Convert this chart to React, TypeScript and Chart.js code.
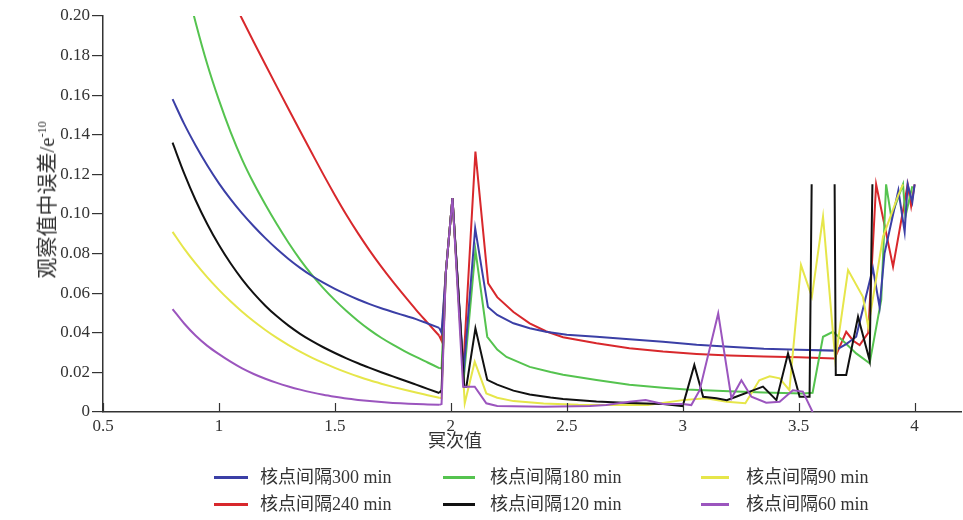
import React, { useEffect, useRef } from "react";
import { Chart, registerables } from "chart.js";

Chart.register(...registerables);

// ---------- data ----------
const leftX = [0.8, 0.85, 0.9, 0.95, 1.0, 1.05, 1.1, 1.15, 1.2, 1.25, 1.3, 1.35, 1.4, 1.45, 1.5, 1.55, 1.6, 1.65, 1.7, 1.75, 1.8, 1.85, 1.9, 1.95];

const y300Left = [0.158, 0.1455, 0.1345, 0.1245, 0.1155, 0.1075, 0.1003, 0.0938, 0.0878, 0.0823, 0.0773, 0.0728, 0.0688, 0.0653, 0.0622, 0.0594, 0.0568, 0.0545, 0.0524, 0.0505, 0.0487, 0.0469, 0.0447, 0.0425];
const y240Left = [0.2755, 0.2615, 0.248, 0.235, 0.2225, 0.2103, 0.1985, 0.1869, 0.1755, 0.1642, 0.153, 0.1419, 0.1309, 0.12, 0.1095, 0.0995, 0.0902, 0.0815, 0.0734, 0.0658, 0.0586, 0.0516, 0.045, 0.0385];
const y180Left = [0.246, 0.22, 0.1965, 0.1755, 0.1575, 0.1415, 0.1275, 0.1155, 0.1048, 0.0948, 0.0855, 0.077, 0.0694, 0.0626, 0.0565, 0.051, 0.046, 0.0415, 0.0375, 0.034, 0.0308, 0.0278, 0.025, 0.0222];
const y120Left = [0.136, 0.1205, 0.1068, 0.0948, 0.0843, 0.0751, 0.067, 0.0599, 0.0537, 0.0483, 0.0436, 0.0395, 0.0359, 0.0327, 0.0298, 0.0271, 0.0246, 0.0223, 0.0201, 0.018, 0.0159, 0.0138, 0.0117, 0.0096];
const y90Left = [0.091, 0.0825, 0.0749, 0.068, 0.0617, 0.0559, 0.0506, 0.0458, 0.0414, 0.0374, 0.0338, 0.0305, 0.0275, 0.0248, 0.0223, 0.02, 0.0179, 0.016, 0.0143, 0.0127, 0.0112, 0.0098, 0.0085, 0.0072];
const y60Left = [0.052, 0.0447, 0.0385, 0.0334, 0.0292, 0.0254, 0.022, 0.0192, 0.0168, 0.0147, 0.0129, 0.0113, 0.0099, 0.0087, 0.0077, 0.0068, 0.0061, 0.0055, 0.005, 0.0046, 0.0043, 0.004, 0.0038, 0.0036];

const x300Tail = [1.96, 1.978, 2.007, 2.055, 2.105, 2.16, 2.2, 2.27, 2.34, 2.41, 2.5, 2.628, 2.77, 2.915, 3.06, 3.2, 3.35, 3.5, 3.655, 3.705, 3.748, 3.777, 3.82, 3.849, 3.87, 3.93, 3.957, 3.97, 3.99, 4.0];
const y300Tail = [0.04, 0.07, 0.108, 0.02, 0.0928, 0.053, 0.049, 0.0448, 0.0423, 0.0405, 0.039, 0.038, 0.0367, 0.0355, 0.034, 0.033, 0.032, 0.0315, 0.031, 0.0343, 0.038, 0.052, 0.0726, 0.053, 0.08, 0.112, 0.091, 0.115, 0.106, 0.115];

const x240Tail = [1.96, 1.978, 2.007, 2.053, 2.106, 2.161, 2.2, 2.27, 2.34, 2.41, 2.484, 2.628, 2.77, 2.915, 3.06, 3.2, 3.35, 3.5, 3.655, 3.705, 3.735, 3.763, 3.8, 3.834, 3.907, 3.97, 3.985, 4.0];
const y240Tail = [0.036, 0.07, 0.108, 0.021, 0.1315, 0.065, 0.058, 0.0505, 0.0448, 0.0408, 0.0378, 0.0347, 0.0322, 0.0305, 0.0293, 0.0285, 0.028, 0.0277, 0.027, 0.0405, 0.036, 0.0338, 0.04, 0.115, 0.0734, 0.115, 0.104, 0.115];

const x180Tail = [1.96, 1.978, 2.007, 2.055, 2.106, 2.157, 2.2, 2.24, 2.34, 2.43, 2.484, 2.628, 2.77, 2.915, 3.015, 3.2, 3.35, 3.518, 3.56, 3.605, 3.648, 3.7, 3.748, 3.806, 3.856, 3.877, 3.899, 3.95, 3.96, 3.99];
const y180Tail = [0.022, 0.07, 0.108, 0.016, 0.0818, 0.038, 0.0315, 0.0278, 0.0228, 0.0202, 0.0188, 0.0162, 0.0138, 0.0123, 0.0114, 0.0105, 0.0098, 0.0094, 0.0097, 0.038, 0.0405, 0.035, 0.0296, 0.0246, 0.0566, 0.115, 0.0986, 0.115, 0.0986, 0.114];

const x120Tail = [1.96, 1.978, 2.007, 2.058, 2.067, 2.106, 2.157, 2.2, 2.27, 2.34, 2.43, 2.484, 2.628, 2.77, 2.915, 3.0, 3.05, 3.088, 3.145, 3.19, 3.23, 3.289, 3.346, 3.404, 3.454, 3.504, 3.547, 3.556, 3.6, 3.655, 3.66, 3.705, 3.756, 3.806, 3.818];
const y120Tail = [0.011, 0.07, 0.108, 0.0128, 0.0128, 0.0423, 0.0162, 0.0138, 0.0108, 0.0088, 0.0073, 0.0066, 0.0053, 0.0045, 0.004, 0.003, 0.0237, 0.0077, 0.0069, 0.006, 0.0077, 0.0103, 0.0128, 0.006, 0.0296, 0.0077, 0.0077, 0.115, null, 0.115, 0.0187, 0.0187, 0.0481, 0.026, 0.115];

const x90Tail = [1.96, 1.978, 2.007, 2.06, 2.103, 2.153, 2.2, 2.27, 2.4, 2.55, 2.7, 2.85, 3.0, 3.1, 3.19, 3.27, 3.33, 3.375, 3.418, 3.46, 3.51, 3.557, 3.605, 3.658, 3.713, 3.777, 3.8, 3.864, 3.928, 3.95];
const y90Tail = [0.007, 0.07, 0.108, 0.0044, 0.0254, 0.0094, 0.0072, 0.0055, 0.0043, 0.0037, 0.0035, 0.0035, 0.006, 0.007, 0.0052, 0.0044, 0.016, 0.018, 0.017, 0.011, 0.0742, 0.0582, 0.0986, 0.0263, 0.0717, 0.0582, 0.043, 0.0886, 0.109, 0.115];

const x60Tail = [1.96, 1.978, 2.007, 2.053, 2.103, 2.153, 2.2, 2.4, 2.6, 2.67, 2.77, 2.84, 2.915, 3.0, 3.037, 3.073, 3.153, 3.21, 3.253, 3.296, 3.36, 3.418, 3.475, 3.518, 3.56];
const y60Tail = [0.004, 0.07, 0.108, 0.0128, 0.0128, 0.0044, 0.003, 0.0027, 0.003, 0.0035, 0.0052, 0.006, 0.004, 0.004, 0.0035, 0.011, 0.0498, 0.0069, 0.016, 0.0077, 0.0047, 0.0052, 0.011, 0.0103, 0.0];

const seriesNames = ["核点间隔300 min", "核点间隔240 min", "核点间隔180 min", "核点间隔120 min", "核点间隔90 min", "核点间隔60 min"];

const xTicks = [0.5, 1, 1.5, 2, 2.5, 3, 3.5, 4];
const yTicks = [0, 0.02, 0.04, 0.06, 0.08, 0.1, 0.12, 0.14, 0.16, 0.18, 0.2];

const xTitle = "冥次值";
const yTitle = "观察值中误差/e";
const yTitleSup = "-10";

// ---------- styles ----------
const COLORS = ["#3b3fa6", "#d8282c", "#55c34f", "#111111", "#e6e64a", "#9b55be"];
const ORDERS = [3, 5, 4, 1, 2, 0];
const FONT = "'Liberation Serif', 'Times New Roman', 'Noto Sans CJK SC', serif";
const AXIS = "#333333";

const leftYs = [y300Left, y240Left, y180Left, y120Left, y90Left, y60Left];
const tailXs = [x300Tail, x240Tail, x180Tail, x120Tail, x90Tail, x60Tail];
const tailYs = [y300Tail, y240Tail, y180Tail, y120Tail, y90Tail, y60Tail];

function leftPoints(i: number) {
  return leftX.map((x, k) => ({ x, y: leftYs[i][k] }));
}
function tailPoints(i: number) {
  const last = leftX.length - 1;
  const pts: { x: number; y: number | null }[] = [{ x: leftX[last], y: leftYs[i][last] }];
  tailXs[i].forEach((x, k) => pts.push({ x, y: tailYs[i][k] }));
  return pts;
}

const innerXTicks = {
  id: "innerXTicks",
  afterDraw(chart: any) {
    const { ctx, chartArea, scales } = chart;
    const x = scales.x;
    ctx.save();
    ctx.strokeStyle = AXIS;
    ctx.lineWidth = 1.2;
    xTicks.forEach((v) => {
      const px = Math.round(x.getPixelForValue(v)) + 0.5;
      ctx.beginPath();
      ctx.moveTo(px, chartArea.bottom);
      ctx.lineTo(px, chartArea.bottom - 9);
      ctx.stroke();
    });
    ctx.restore();
  },
};

const legendCols = [
  { line: 214, lineW: 34, text: 260 },
  { line: 443, lineW: 32, text: 490 },
  { line: 701, lineW: 28, text: 746 },
];
const legendRows = [477, 504];

export default function App() {
  const ref = useRef<HTMLCanvasElement | null>(null);

  useEffect(() => {
    if (!ref.current) return;
    const datasets: any[] = [];
    seriesNames.forEach((name, i) => {
      const base = {
        label: name,
        borderColor: COLORS[i],
        backgroundColor: COLORS[i],
        borderWidth: 2,
        pointRadius: 0,
        fill: false,
        spanGaps: false,
        order: ORDERS[i],
      };
      datasets.push({ ...base, data: leftPoints(i), cubicInterpolationMode: "monotone" });
      datasets.push({ ...base, data: tailPoints(i), tension: 0 });
    });
    const chart = new Chart(ref.current, {
      type: "line",
      data: { datasets },
      options: {
        animation: false,
        responsive: false,
        maintainAspectRatio: false,
        layout: { padding: { top: 16, right: 2, bottom: 78, left: 0 } },
        plugins: { legend: { display: false }, tooltip: { enabled: false }, title: { display: false } },
        scales: {
          x: {
            type: "linear",
            min: 0.5,
            max: 4.2,
            afterBuildTicks: (s: any) => {
              s.ticks = xTicks.map((v) => ({ value: v }));
            },
            afterFit: (s: any) => {
              s.height = 30;
            },
            grid: { display: true, drawOnChartArea: false, drawTicks: false },
            border: { display: true, color: AXIS, width: 1.5 },
            ticks: {
              padding: 4,
              color: AXIS,
              font: { family: FONT, size: 17 },
              maxRotation: 0,
              autoSkip: false,
              callback: (v: any) => String(v),
            },
          },
          y: {
            type: "linear",
            min: 0,
            max: 0.2,
            afterBuildTicks: (s: any) => {
              s.ticks = yTicks.map((v) => ({ value: v }));
            },
            afterFit: (s: any) => {
              s.width = 103;
            },
            grid: { display: true, drawOnChartArea: false, drawTicks: true, tickLength: 11, color: AXIS, lineWidth: 1.2 },
            border: { display: true, color: AXIS, width: 1.5 },
            ticks: {
              padding: 2,
              color: AXIS,
              font: { family: FONT, size: 17 },
              autoSkip: false,
              callback: (v: any) => (Number(v) === 0 ? "0" : Number(v).toFixed(2)),
            },
          },
        },
      },
      plugins: [innerXTicks],
    });
    return () => chart.destroy();
  }, []);

  const textStyle: React.CSSProperties = {
    position: "absolute",
    fontFamily: FONT,
    fontSize: 18,
    color: "#333",
    whiteSpace: "nowrap",
    lineHeight: 1,
  };

  return (
    <div style={{ position: "fixed", left: 0, top: 0, width: 963, height: 520, background: "#fff", overflow: "hidden" }}>
      <canvas ref={ref} width={963} height={520} style={{ display: "block", width: 963, height: 520 }} />
      <div
        style={{
          ...textStyle,
          fontSize: 21,
          left: 47,
          top: 200,
          transform: "translate(-50%, -50%) rotate(-90deg)",
        }}
      >
        {yTitle}
        <sup style={{ fontSize: 12 }}>{yTitleSup}</sup>
      </div>
      <div style={{ ...textStyle, left: 455, top: 441, transform: "translate(-50%, -50%)" }}>{xTitle}</div>
      {seriesNames.map((name, i) => {
        const col = legendCols[Math.floor(i / 2)];
        const rowY = legendRows[i % 2];
        return (
          <React.Fragment key={name}>
            <div
              style={{
                position: "absolute",
                left: col.line,
                top: rowY - 1.5,
                width: col.lineW,
                height: 3,
                background: COLORS[i],
              }}
            />
            <div style={{ ...textStyle, left: col.text, top: rowY, transform: "translateY(-50%)" }}>{name}</div>
          </React.Fragment>
        );
      })}
    </div>
  );
}
